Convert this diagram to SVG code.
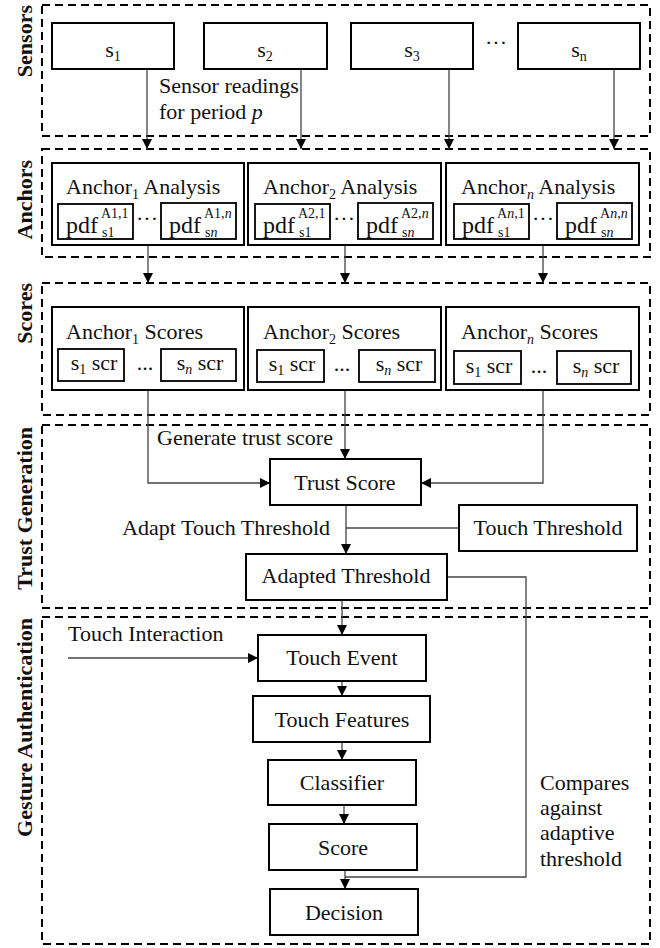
<svg xmlns="http://www.w3.org/2000/svg" width="660" height="948" viewBox="0 0 660 948">
<defs>
<marker id="ah" markerUnits="userSpaceOnUse" markerWidth="10" markerHeight="10" refX="10" refY="5" orient="auto">
<path d="M0,0 L10,5 L0,10 z" fill="#000"/>
</marker>
<style>
.sec{fill:none;stroke:#000;stroke-width:2;stroke-dasharray:8,5}
.box{fill:#fff;stroke:#000;stroke-width:2}
.ibox{fill:#fff;stroke:#000;stroke-width:1.8}
.t{font-family:"Liberation Serif","Times New Roman",serif;font-size:22px;fill:#111}
.c{text-anchor:middle}
.lab{font-family:"Liberation Serif","Times New Roman",serif;font-size:22px;font-weight:bold;fill:#111;text-anchor:end}
.sm{font-size:14px}
.pdf{font-size:24px}
.it{font-style:italic}
.ln{fill:none;stroke:#444;stroke-width:1.3}
.ar{fill:none;stroke:#444;stroke-width:1.3;marker-end:url(#ah)}
</style>
</defs>
<rect width="660" height="948" fill="#fff"/>

<!-- section frames -->
<g id="sections">
<rect class="sec" x="42" y="5" width="608" height="131"/>
<rect class="sec" x="42" y="149" width="608" height="108"/>
<rect class="sec" x="42" y="283" width="608" height="132"/>
<rect class="sec" x="42" y="425" width="608" height="183"/>
<rect class="sec" x="42" y="617" width="608" height="327"/>
<text class="lab" transform="translate(32,5) rotate(-90)">Sensors</text>
<text class="lab" transform="translate(32,160) rotate(-90)">Anchors</text>
<text class="lab" transform="translate(32,283) rotate(-90)">Scores</text>
<text class="lab" transform="translate(32,427) rotate(-90)">Trust Generation</text>
<text class="lab" transform="translate(32,618) rotate(-90)">Gesture Authentication</text>
</g>

<!-- connectors -->
<g id="connectors">
<line class="ar" x1="147" y1="69" x2="147" y2="149"/>
<line class="ar" x1="301" y1="69" x2="301" y2="149"/>
<line class="ar" x1="449" y1="69" x2="449" y2="149"/>
<line class="ar" x1="614" y1="69" x2="614" y2="149"/>
<line class="ar" x1="148" y1="245" x2="148" y2="283"/>
<line class="ar" x1="345" y1="245" x2="345" y2="283"/>
<line class="ar" x1="543" y1="245" x2="543" y2="283"/>
<polyline class="ar" points="148,390 148,483 270,483"/>
<line class="ar" x1="345" y1="390" x2="345" y2="459"/>
<polyline class="ar" points="543,390 543,483 421,483"/>
<line class="ar" x1="346" y1="505" x2="346" y2="554"/>
<line class="ln" x1="459" y1="528" x2="346" y2="528"/>
<polyline class="ln" points="447,577 526,577 526,877 345,877"/>
<line class="ar" x1="342" y1="600" x2="342" y2="635"/>
<line class="ar" x1="68" y1="658" x2="258" y2="658"/>
<line class="ar" x1="342" y1="681" x2="342" y2="696"/>
<line class="ar" x1="342" y1="742" x2="342" y2="760"/>
<line class="ar" x1="344" y1="805" x2="344" y2="824"/>
<line class="ar" x1="345" y1="870" x2="345" y2="889"/>
<text class="t" x="159" y="93">Sensor readings</text>
<text class="t" x="159" y="119">for period <tspan class="it">p</tspan></text>
<text class="t" x="157" y="445">Generate trust score</text>
<text class="t" x="330" y="535" style="text-anchor:end">Adapt Touch Threshold</text>
<text class="t" x="68" y="641">Touch Interaction</text>
<text class="t" x="540" y="790">Compares</text>
<text class="t" x="540" y="815">against</text>
<text class="t" x="540" y="840">adaptive</text>
<text class="t" x="540" y="866">threshold</text>
</g>

<!-- sensors -->
<g id="s1"><rect class="box" x="52" y="23" width="122" height="46"/><text class="t c" x="113" y="57">s<tspan class="sm" dy="4">1</tspan></text></g>
<g id="s2"><rect class="box" x="204" y="23" width="123" height="46"/><text class="t c" x="265" y="57">s<tspan class="sm" dy="4">2</tspan></text></g>
<g id="s3"><rect class="box" x="351" y="23" width="122" height="46"/><text class="t c" x="412" y="57">s<tspan class="sm" dy="4">3</tspan></text></g>
<text class="t c" x="496" y="50">···</text>
<g id="sn"><rect class="box" x="518" y="23" width="122" height="46"/><text class="t c" x="579" y="57">s<tspan class="sm" dy="4">n</tspan></text></g>

<!-- anchors -->
<g id="anchor1">
<rect class="box" x="52" y="163" width="192" height="82"/>
<text class="t" x="66" y="194">Anchor<tspan class="sm" dy="5">1</tspan><tspan dy="-5"> Analysis</tspan></text>
<rect class="ibox" x="58" y="204" width="75" height="35"/>
<text class="t"><tspan class="pdf" x="66" y="233">pdf</tspan><tspan class="sm" x="101" y="218">A1,1</tspan><tspan class="sm" x="102" y="237">s1</tspan></text>
<text class="t c" x="147" y="226">···</text>
<rect class="ibox" x="161" y="203" width="75" height="36"/>
<text class="t"><tspan class="pdf" x="169" y="233">pdf</tspan><tspan class="sm" x="204" y="218">A1,<tspan class="it">n</tspan></tspan><tspan class="sm" x="205" y="237">s<tspan class="it">n</tspan></tspan></text>
</g>
<g id="anchor2">
<rect class="box" x="248" y="163" width="193" height="82"/>
<text class="t" x="263" y="194">Anchor<tspan class="sm" dy="5">2</tspan><tspan dy="-5"> Analysis</tspan></text>
<rect class="ibox" x="255" y="204" width="75" height="35"/>
<text class="t"><tspan class="pdf" x="263" y="233">pdf</tspan><tspan class="sm" x="298" y="218">A2,1</tspan><tspan class="sm" x="299" y="237">s1</tspan></text>
<text class="t c" x="344" y="226">···</text>
<rect class="ibox" x="358" y="203" width="75" height="36"/>
<text class="t"><tspan class="pdf" x="366" y="233">pdf</tspan><tspan class="sm" x="401" y="218">A2,<tspan class="it">n</tspan></tspan><tspan class="sm" x="402" y="237">s<tspan class="it">n</tspan></tspan></text>
</g>
<g id="anchorn">
<rect class="box" x="446" y="163" width="193" height="82"/>
<text class="t" x="461" y="194">Anchor<tspan class="sm it" dy="5">n</tspan><tspan dy="-5"> Analysis</tspan></text>
<rect class="ibox" x="454" y="204" width="75" height="35"/>
<text class="t"><tspan class="pdf" x="462" y="233">pdf</tspan><tspan class="sm" x="497" y="218">A<tspan class="it">n</tspan>,1</tspan><tspan class="sm" x="498" y="237">s1</tspan></text>
<text class="t c" x="543" y="226">···</text>
<rect class="ibox" x="557" y="203" width="75" height="36"/>
<text class="t"><tspan class="pdf" x="565" y="233">pdf</tspan><tspan class="sm" x="600" y="218">A<tspan class="it">n</tspan>,<tspan class="it">n</tspan></tspan><tspan class="sm" x="601" y="237">s<tspan class="it">n</tspan></tspan></text>
</g>

<!-- scores -->
<g id="scores1">
<rect class="box" x="52" y="307" width="192" height="83"/>
<text class="t" x="66" y="339">Anchor<tspan class="sm" dy="5">1</tspan><tspan dy="-5"> Scores</tspan></text>
<rect class="ibox" x="58" y="349" width="66" height="32"/>
<text class="t c" x="94" y="370">s<tspan class="sm" dy="4">1</tspan><tspan dy="-4"> scr</tspan></text>
<text class="t c" x="145" y="370">...</text>
<rect class="ibox" x="161" y="349" width="75" height="32"/>
<text class="t c" x="200" y="370">s<tspan class="sm it" dy="4">n</tspan><tspan dy="-4"> scr</tspan></text>
</g>
<g id="scores2">
<rect class="box" x="248" y="307" width="193" height="83"/>
<text class="t" x="263" y="339">Anchor<tspan class="sm" dy="5">2</tspan><tspan dy="-5"> Scores</tspan></text>
<rect class="ibox" x="257" y="350" width="67" height="32"/>
<text class="t c" x="292" y="371">s<tspan class="sm" dy="4">1</tspan><tspan dy="-4"> scr</tspan></text>
<text class="t c" x="342" y="371">...</text>
<rect class="ibox" x="359" y="350" width="76" height="32"/>
<text class="t c" x="399" y="371">s<tspan class="sm it" dy="4">n</tspan><tspan dy="-4"> scr</tspan></text>
</g>
<g id="scoresn">
<rect class="box" x="446" y="307" width="193" height="83"/>
<text class="t" x="461" y="339">Anchor<tspan class="sm it" dy="5">n</tspan><tspan dy="-5"> Scores</tspan></text>
<rect class="ibox" x="454" y="351" width="67" height="33"/>
<text class="t c" x="489" y="373">s<tspan class="sm" dy="4">1</tspan><tspan dy="-4"> scr</tspan></text>
<text class="t c" x="539" y="373">...</text>
<rect class="ibox" x="557" y="351" width="74" height="33"/>
<text class="t c" x="596" y="373">s<tspan class="sm it" dy="4">n</tspan><tspan dy="-4"> scr</tspan></text>
</g>

<!-- trust generation -->
<g id="trust-score"><rect class="box" x="270" y="459" width="151" height="46"/><text class="t c" x="345" y="490">Trust Score</text></g>
<g id="touch-threshold"><rect class="box" x="459" y="505" width="178" height="46"/><text class="t c" x="548" y="535">Touch Threshold</text></g>
<g id="adapted-threshold"><rect class="box" x="246" y="554" width="201" height="46"/><text class="t c" x="346" y="583">Adapted Threshold</text></g>

<!-- gesture authentication -->
<g id="touch-event"><rect class="box" x="258" y="635" width="168" height="46"/><text class="t c" x="342" y="665">Touch Event</text></g>
<g id="touch-features"><rect class="box" x="253" y="696" width="177" height="46"/><text class="t c" x="342" y="727">Touch Features</text></g>
<g id="classifier"><rect class="box" x="268" y="760" width="148" height="45"/><text class="t c" x="342" y="790">Classifier</text></g>
<g id="score"><rect class="box" x="269" y="824" width="148" height="46"/><text class="t c" x="343" y="855">Score</text></g>
<g id="decision"><rect class="box" x="270" y="889" width="148" height="46"/><text class="t c" x="344" y="920">Decision</text></g>
</svg>
